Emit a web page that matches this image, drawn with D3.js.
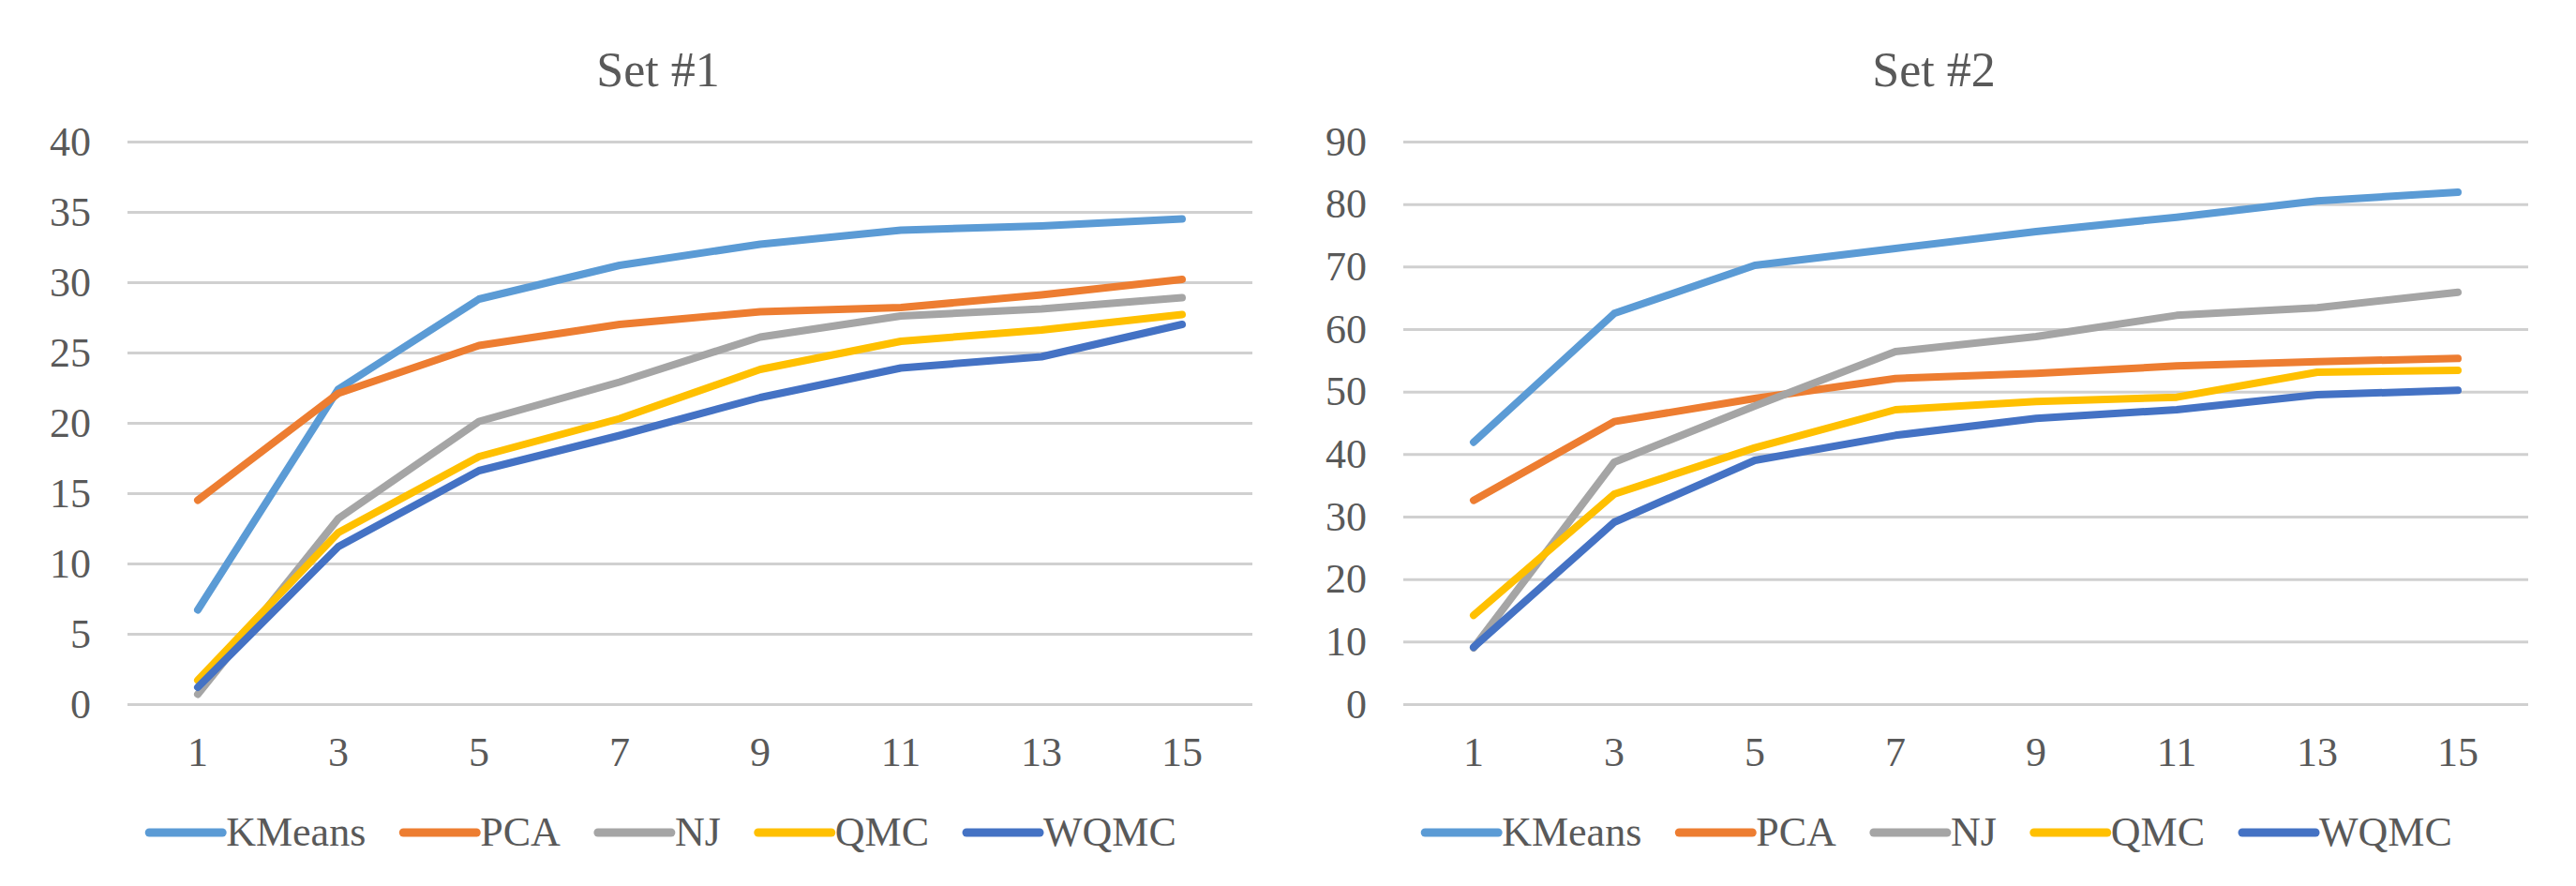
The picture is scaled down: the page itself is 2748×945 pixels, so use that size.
<!DOCTYPE html>
<html>
<head>
<meta charset="utf-8">
<script src="https://cdn.jsdelivr.net/npm/d3@7"></script>
<style>
  body { margin: 0; background: #fff; }
  text { font-family: "Liberation Serif", "Times New Roman", serif; fill: #595959; }
</style>
</head>
<body>
<div id="chart"></div>
<script>
// Category labels and series names
const xLabels = ['1', '3', '5', '7', '9', '11', '13', '15'];
const methods = ['KMeans', 'PCA', 'NJ', 'QMC', 'WQMC'];
const colors = ['#5B9BD5', '#ED7D31', '#A5A5A5', '#FFC000', '#4472C4'];

// Set #1 values
const set1KMeans = [6.7, 22.4, 28.8, 31.2, 32.7, 33.7, 34.0, 34.5];
const set1PCA = [14.5, 22.1, 25.5, 27.0, 27.9, 28.2, 29.1, 30.2];
const set1NJ = [0.7, 13.2, 20.1, 22.9, 26.1, 27.6, 28.1, 28.9];
const set1QMC = [1.7, 12.2, 17.6, 20.3, 23.8, 25.8, 26.6, 27.7];
const set1WQMC = [1.2, 11.2, 16.6, 19.1, 21.8, 23.9, 24.7, 27.0];
const set1Ticks = [0, 5, 10, 15, 20, 25, 30, 35, 40];

// Set #2 values
const set2KMeans = [41.9, 62.5, 70.2, 72.9, 75.6, 77.9, 80.5, 81.9];
const set2PCA = [32.6, 45.2, 48.9, 52.1, 52.9, 54.1, 54.8, 55.3];
const set2NJ = [9.0, 38.7, 47.7, 56.4, 58.8, 62.2, 63.4, 65.9];
const set2QMC = [14.2, 33.6, 41.0, 47.1, 48.4, 49.1, 53.1, 53.4];
const set2WQMC = [9.1, 29.1, 39.0, 43.0, 45.7, 47.1, 49.5, 50.2];
const set2Ticks = [0, 10, 20, 30, 40, 50, 60, 70, 80, 90];

const svgWidth = 2748;
const svgHeight = 945;
const fontFamily = '"Liberation Serif", "Times New Roman", serif';

const svg = d3.select('#chart')
    .append('svg')
    .attr('width', svgWidth)
    .attr('height', svgHeight);

// Draws one panel; offsetX shifts the whole panel
const drawPanel = function(offsetX, title, ticks, seriesList) {
    const g = svg.append('g').attr('transform', `translate(${offsetX}, 0)`);

    const plotLeft = 136, plotRight = 1336, plotTop = 151, plotBottom = 751;

    const xScale = d3.scaleBand()
        .domain(xLabels)
        .range([plotLeft, plotRight]);
    const yScale = d3.scaleLinear()
        .domain([0, d3.max(ticks)])
        .range([plotBottom, plotTop]);

    // Gridlines + y labels
    const yAxis = d3.axisLeft(yScale)
        .tickValues(ticks)
        .tickSize(-(plotRight - plotLeft))
        .tickPadding(39);
    const yG = g.append('g')
        .attr('transform', `translate(${plotLeft}, 0)`)
        .call(yAxis)
        .attr('font-family', fontFamily);
    yG.select('.domain').remove();
    yG.selectAll('line').attr('stroke', '#d0d0d0').attr('stroke-width', 3);
    yG.selectAll('text').style('font-size', '44px').attr('fill', '#595959');

    // x labels
    const xAxis = d3.axisBottom(xScale).tickSize(0).tickPadding(35);
    const xG = g.append('g')
        .attr('transform', `translate(0, ${plotBottom})`)
        .call(xAxis)
        .attr('font-family', fontFamily);
    xG.select('.domain').remove();
    xG.selectAll('text').style('font-size', '44px').attr('fill', '#595959');

    // Lines
    const line = d3.line()
        .x((d, i) => xScale(xLabels[i]) + xScale.bandwidth() / 2)
        .y(d => yScale(d));
    seriesList.forEach((vals, i) => {
        g.append('path')
            .datum(vals)
            .attr('d', line)
            .attr('fill', 'none')
            .attr('stroke', colors[i])
            .attr('stroke-width', 8)
            .attr('stroke-linecap', 'round')
            .attr('stroke-linejoin', 'round');
    });

    // Title
    g.append('text')
        .attr('x', 702)
        .attr('y', 92)
        .attr('text-anchor', 'middle')
        .style('font-size', '52px')
        .text(title);

    // Legend, centred under the chart
    const legend = g.append('g');
    let cursor = 0;
    methods.forEach((name, i) => {
        const item = legend.append('g').attr('transform', `translate(${cursor}, 0)`);
        item.append('line')
            .attr('x1', 0).attr('x2', 78)
            .attr('y1', 888).attr('y2', 888)
            .attr('stroke', colors[i])
            .attr('stroke-width', 9)
            .attr('stroke-linecap', 'round');
        const t = item.append('text')
            .attr('x', 82)
            .attr('y', 888)
            .attr('dy', '0.32em')
            .style('font-size', '44px')
            .text(name);
        cursor += 82 + t.node().getComputedTextLength() + 40;
    });
    const legendWidth = cursor - 40;
    legend.attr('transform', `translate(${707 - legendWidth / 2}, 0)`);
};

drawPanel(0, 'Set #1', set1Ticks, [set1KMeans, set1PCA, set1NJ, set1QMC, set1WQMC]);
drawPanel(1361, 'Set #2', set2Ticks, [set2KMeans, set2PCA, set2NJ, set2QMC, set2WQMC]);
</script>
</body>
</html>
